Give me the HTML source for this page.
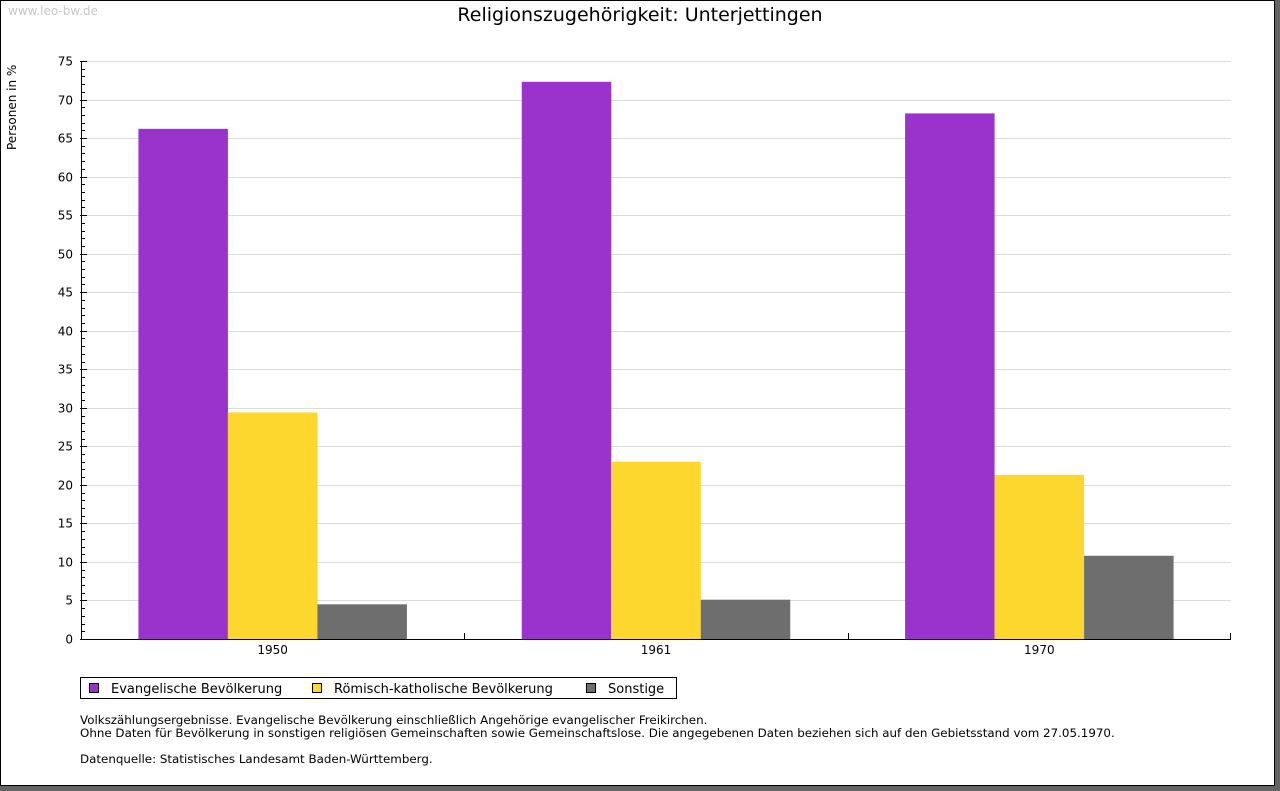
<!DOCTYPE html>
<html><head><meta charset="utf-8"><style>
html,body{margin:0;padding:0;background:#646464;width:1280px;height:791px;overflow:hidden}
svg{display:block;font-family:"DejaVu Sans","Liberation Sans",sans-serif}
</style></head><body>
<svg id="chart" width="1280" height="791">
<rect x="0.5" y="0.5" width="1274" height="785" fill="#fff" stroke="#000"/>
<text x="8" y="15" font-size="12" fill="#c8c8c8">www.leo-bw.de</text>
<text x="640" y="21" font-size="19" text-anchor="middle">Religionszugehörigkeit: Unterjettingen</text>
<text transform="translate(16,150) rotate(-90)" font-size="12">Personen in %</text>
<g id="grid"></g><g id="bars"></g><g id="axes"></g>
<g>
<rect x="80.5" y="677.5" width="596" height="21" fill="#fff" stroke="#000"/>
<rect x="89.5" y="683.5" width="9" height="9" fill="#9933cc" stroke="#000"/>
<text x="111" y="693" font-size="13">Evangelische Bevölkerung</text>
<rect x="312.5" y="683.5" width="9" height="9" fill="#fdd62e" stroke="#000"/>
<text x="334" y="693" font-size="13">Römisch-katholische Bevölkerung</text>
<rect x="586.5" y="683.5" width="9" height="9" fill="#6e6e6e" stroke="#000"/>
<text x="608" y="693" font-size="13">Sonstige</text>
</g>
<g font-size="11.86">
<text x="80" y="724">Volkszählungsergebnisse. Evangelische Bevölkerung einschließlich Angehörige evangelischer Freikirchen.</text>
<text x="80" y="737">Ohne Daten für Bevölkerung in sonstigen religiösen Gemeinschaften sowie Gemeinschaftslose. Die angegebenen Daten beziehen sich auf den Gebietsstand vom 27.05.1970.</text>
<text x="80" y="763">Datenquelle: Statistisches Landesamt Baden-Württemberg.</text>
</g>
</svg>
<script>
const categories=["1950","1961","1970"];
const evangelisch=[66.2,72.3,68.2];
const katholisch=[29.4,23.0,21.3];
const sonstige=[4.5,5.1,10.8];
const yTicks=[0,5,10,15,20,25,30,35,40,45,50,55,60,65,70,75];
const NS="http://www.w3.org/2000/svg";
const X0=81,X1=1231,Y0=639,Y1=61,YMAX=75;
const y=v=>Y0-(v/YMAX)*(Y0-Y1);
const gw=(X1-X0)/categories.length;
function mk(t,a,p){const e=document.createElementNS(NS,t);for(const k in a)e.setAttribute(k,a[k]);p.appendChild(e);return e;}
const grid=document.getElementById('grid'),bars=document.getElementById('bars'),axes=document.getElementById('axes');
yTicks.forEach(v=>{
 const yy=Math.round(y(v))+0.5;
 if(v>0){const l=mk('line',{x1:X0,x2:X1,y1:yy,y2:yy,stroke:'#dcdcdc'},grid);
 
 }
 const t=mk('text',{x:73,y:yy+4,'font-size':12,'text-anchor':'end'},axes);t.textContent=v;
 
 
 mk('line',{x1:X0-1,x2:X0+6,y1:yy,y2:yy,stroke:'#000'},axes);
});
for(let v=0;v<YMAX;v++){if(v%5){const yy=Math.round(y(v))+0.5;mk('line',{x1:X0,x2:X0+4,y1:yy,y2:yy,stroke:'#000'},axes);}}
const series=[[evangelisch,'#9933cc','evangelisch'],[katholisch,'#fdd62e','katholisch'],[sonstige,'#6e6e6e','sonstige']];
const bw=89.5;
categories.forEach((c,i)=>{
 const gx=X0+i*gw, start=gx+(gw-3*bw)/2;
 series.forEach((s,j)=>{
  const top=y(s[0][i]);
  const r=mk('rect',{x:start+j*bw,y:top,width:bw,height:Y0-top,fill:s[1]},bars);
  
  
 });
 const t=mk('text',{x:gx+gw/2,y:654,'font-size':12,'text-anchor':'middle'},axes);t.textContent=c;
 
 
 if(i>0)mk('line',{x1:Math.round(gx)+0.5,x2:Math.round(gx)+0.5,y1:Y0-6,y2:Y0,stroke:'#000'},axes);
});
mk('line',{x1:X1-0.5,x2:X1-0.5,y1:Y0-6,y2:Y0,stroke:'#000'},axes);
const xa=mk('line',{x1:X0,x2:X1,y1:Y0+0.5,y2:Y0+0.5,stroke:'#000'},axes);


const ya=mk('line',{x1:X0+0.5,x2:X0+0.5,y1:Y1,y2:Y0+1,stroke:'#000'},axes);


</script>
</body></html>
